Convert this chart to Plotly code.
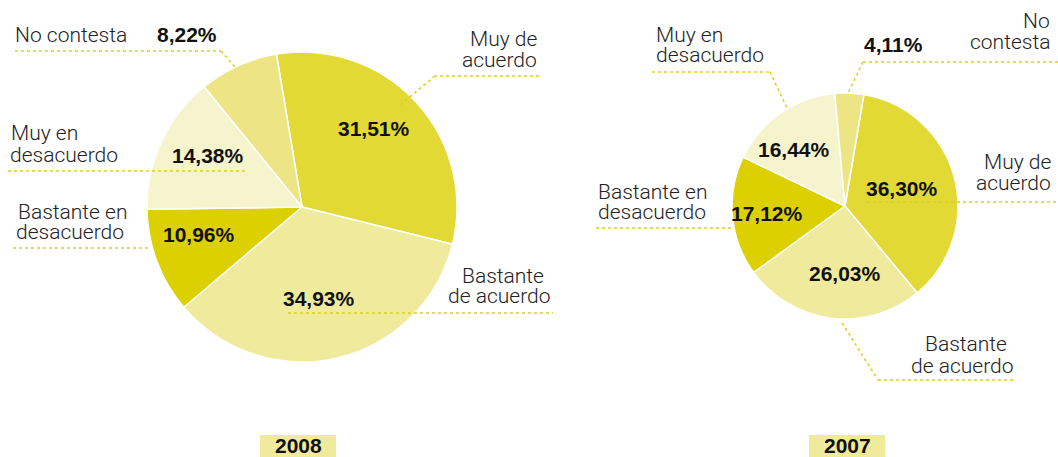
import plotly.graph_objects as go

W, H = 1058, 457

categories = ["Muy de acuerdo", "Bastante de acuerdo", "Bastante en desacuerdo",
              "Muy en desacuerdo", "No contesta"]
values_2008 = [31.51, 34.93, 10.96, 14.38, 8.22]
values_2007 = [36.30, 26.03, 17.12, 16.44, 4.11]
years = ["2008", "2007"]

# display labels (line by line) for each chart
labels_2008 = [["Muy de", "acuerdo"], ["Bastante", "de acuerdo"], ["Bastante en", "desacuerdo"],
               ["Muy en", "desacuerdo"], ["No contesta"]]
labels_2007 = [["Muy de", "acuerdo"], ["Bastante", "de acuerdo"], ["Bastante en", "desacuerdo"],
               ["Muy en", "desacuerdo"], ["No", "contesta"]]

colors = ["#e3d934", "#f0eb9c", "#ddd000", "#f6f4cc", "#ede584"]
LINE = "#dcd01e"
TXT = "#222222"
LFONT = "Roboto"
BFONT = "Liberation Sans"


def fmt(v):
    return f"{v:.2f}".replace(".", ",") + "%"


def px(x, y):
    return x / W, 1 - y / H


def dom(cx, cy, r):
    return dict(x=[(cx - r) / W, (cx + r) / W], y=[1 - (cy + r) / H, 1 - (cy - r) / H])


fig = go.Figure()
fig.add_trace(go.Pie(labels=categories, values=values_2008, sort=False, direction="clockwise",
                     rotation=-9.5, textinfo="none", hoverinfo="label+percent",
                     marker=dict(colors=colors, line=dict(color="white", width=1.5)),
                     domain=dom(302, 207, 155), showlegend=False))
fig.add_trace(go.Pie(labels=categories, values=values_2007, sort=False, direction="clockwise",
                     rotation=9.6, textinfo="none", hoverinfo="label+percent",
                     marker=dict(colors=colors, line=dict(color="white", width=1.5)),
                     domain=dom(845, 206, 113), showlegend=False))

annotations = []
shapes = []

# percentage label centres in pixels
pct_pos_2008 = [(374, 129), (319, 298), (199, 234), (208, 155), (187, 35)]
pct_pos_2007 = [(902, 188), (845, 273), (767, 213), (794, 150), (893, 45)]
# category label line positions: (x, y_center, anchor) per line
lab_pos_2008 = [[(539, 39, "right"), (539, 60, "right")],
                [(546, 276, "right"), (552, 296, "right")],
                [(16, 212, "left"), (14, 232, "left")],
                [(9, 133, "left"), (8, 155, "left")],
                [(13, 35, "left")]]
lab_pos_2007 = [[(1053, 162, "right"), (1053, 183, "right")],
                [(1009, 344, "right"), (1015, 366, "right")],
                [(596, 192, "left"), (596, 212, "left")],
                [(654, 35, "left"), (654, 55, "left")],
                [(1052, 21, "right"), (1052, 42, "right")]]

for vals, labs, ppos, lpos in [(values_2008, labels_2008, pct_pos_2008, lab_pos_2008),
                               (values_2007, labels_2007, pct_pos_2007, lab_pos_2007)]:
    for v, lines, (x, y), lp in zip(vals, labs, ppos, lpos):
        ax, ay = px(x, y)
        annotations.append(dict(x=ax, y=ay, xref="paper", yref="paper", text=fmt(v),
                                showarrow=False, xanchor="center", yanchor="middle",
                                font=dict(family=BFONT, size=21, color="#111111", weight="bold")))
        for line, (lx, ly, anc) in zip(lines, lp):
            bx, by = px(lx, ly)
            annotations.append(dict(x=bx, y=by, xref="paper", yref="paper", text=line,
                                    showarrow=False, xanchor=anc, yanchor="middle", align=anc,
                                    font=dict(family=LFONT, size=21, color=TXT, weight=300)))

# leader lines (polyline segments in pixels)
leaders = [
    [(15, 51), (221, 51), (235, 67)],
    [(8, 171), (245, 171)],
    [(13, 248), (150, 248)],
    [(539, 76), (435, 76), (400, 105)],
    [(288, 313), (553, 313)],
    [(652, 72), (770, 72), (787, 108)],
    [(1058, 62), (863, 62), (848, 93)],
    [(867, 202), (1058, 202)],
    [(596, 228), (733, 228)],
    [(842, 323), (878, 380), (1016, 380)],
]
for pts in leaders:
    for (x0, y0), (x1, y1) in zip(pts[:-1], pts[1:]):
        a0, b0 = px(x0, y0)
        a1, b1 = px(x1, y1)
        shapes.append(dict(type="line", xref="paper", yref="paper", x0=a0, y0=b0, x1=a1, y1=b1,
                           line=dict(color=LINE, width=1.5, dash="dot")))

# year boxes
for yr, (x0, x1) in zip(years, [(260, 336), (809, 885)]):
    a0, b0 = px(x0, 457)
    a1, b1 = px(x1, 435)
    shapes.append(dict(type="rect", xref="paper", yref="paper", x0=a0, y0=b0, x1=a1, y1=b1,
                       fillcolor="#f0eb9c", line=dict(width=0), layer="below"))
    cx, cy = px((x0 + x1) / 2, 445)
    annotations.append(dict(x=cx, y=cy, xref="paper", yref="paper", text=yr, showarrow=False,
                            xanchor="center", yanchor="middle",
                            font=dict(family=BFONT, size=21, color="#111111", weight="bold")))

fig.update_layout(width=W, height=H, margin=dict(l=0, r=0, t=0, b=0),
                  paper_bgcolor="white", plot_bgcolor="white",
                  annotations=annotations, shapes=shapes)

fig.write_html("out.html", config={"displayModeBar": False},
               post_script="document.body.style.margin='0';document.body.style.overflow='hidden';")
